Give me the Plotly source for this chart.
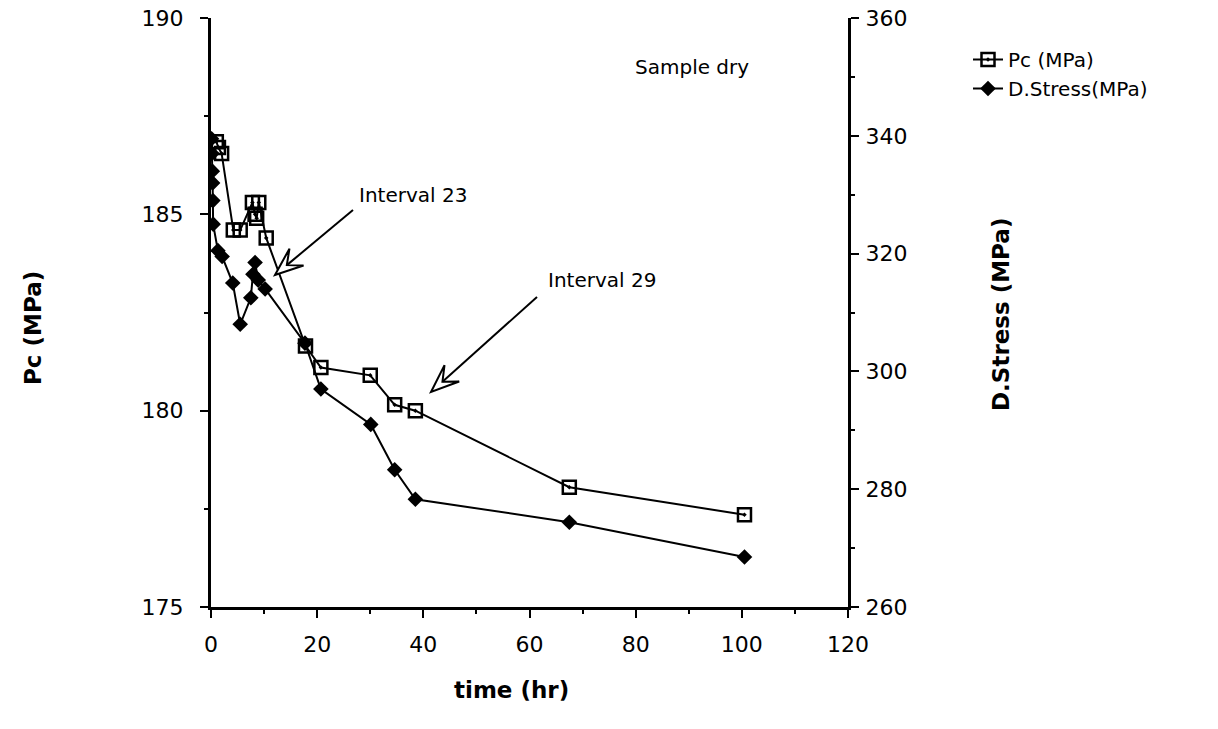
import math
import plotly.graph_objects as go

# ---- data ----
pc_time = [1.0, 1.4, 2.0, 4.2, 5.5, 7.8, 8.3, 8.6, 9.0, 10.4, 17.8, 20.7, 30.0, 34.6, 38.5, 67.5, 100.5]
pc_vals = [186.85, 186.7, 186.55, 184.6, 184.6, 185.3, 185.0, 184.9, 185.3, 184.4,
           181.65, 181.1, 180.9, 180.15, 180.0, 178.05, 177.35]

ds_time = [0.1, 0.2, 0.25, 0.3, 0.35, 0.4, 1.3, 2.1, 4.1, 5.5, 7.5, 7.9, 8.3, 8.9, 10.2,
           17.7, 20.7, 30.1, 34.6, 38.5, 67.5, 100.5]
ds_vals = [339.5, 337.0, 334.0, 332.0, 329.0, 325.0, 320.5, 319.5, 315.0, 308.0, 312.5,
           316.5, 318.5, 315.5, 314.0, 304.8, 297.0, 291.0, 283.3, 278.3, 274.4, 268.5]

x_ticks = [0, 20, 40, 60, 80, 100, 120]
pc_ticks = [175, 180, 185, 190]
ds_ticks = [260, 280, 300, 320, 340, 360]

FONT = "DejaVu Sans"
W, H = 1218, 729
L, R, T, B = 211, 848, 18, 607


def paper(px, py):
    return (px - L) / (R - L), 1 - (py - T) / (B - T)


fig = go.Figure()
fig.add_trace(go.Scatter(
    x=pc_time, y=pc_vals, name="Pc (MPa)", mode="lines+markers",
    line=dict(color="black", width=2),
    marker=dict(symbol="square-open-dot", size=13, color="black", line=dict(width=2.5)),
    yaxis="y"))
fig.add_trace(go.Scatter(
    x=ds_time, y=ds_vals, name="D.Stress(MPa)", mode="lines+markers",
    line=dict(color="black", width=2),
    marker=dict(symbol="diamond", size=12, color="black"),
    yaxis="y2"))

axis_common = dict(showgrid=False, zeroline=False, showline=True, linecolor="black",
                   linewidth=3, ticks="outside", ticklen=8, tickwidth=2, tickcolor="black",
                   automargin=False,
                   tickfont=dict(family=FONT, size=22, color="black"))

fig.update_layout(
    width=W, height=H,
    margin=dict(l=L, r=W - R, t=T, b=H - B, autoexpand=False),
    paper_bgcolor="white", plot_bgcolor="white",
    xaxis=dict(range=[0, 120], tickvals=x_ticks, ticklabelstandoff=8,
               minor=dict(dtick=10, ticks="outside", ticklen=4, tickcolor="black"),
               **axis_common),
    yaxis=dict(range=[175, 190], tickvals=pc_ticks, ticklabelstandoff=12,
               minor=dict(dtick=2.5, ticks="outside", ticklen=4, tickcolor="black"),
               **axis_common),
    yaxis2=dict(range=[260, 360], tickvals=ds_ticks, overlaying="y", side="right",
                anchor="x", ticklabelstandoff=2,
                minor=dict(dtick=10, ticks="outside", ticklen=4, tickcolor="black"),
                **axis_common),
    showlegend=True,
    legend=dict(x=paper(968, 0)[0], y=paper(0, 40)[1], xanchor="left", yanchor="top",
                font=dict(family=FONT, size=20, color="black"),
                bgcolor="rgba(0,0,0,0)", tracegroupgap=0, itemwidth=30),
)


def text(px, py, s, size, angle=0, xanchor="center"):
    fig.add_annotation(x=paper(px, 0)[0], y=paper(0, py)[1], xref="paper", yref="paper",
                       text=s, textangle=angle, showarrow=False,
                       xanchor=xanchor, yanchor="middle",
                       font=dict(family=FONT, size=size, color="black"))


# axis titles
text(33, 328, "<b>Pc (MPa)</b>", 23, angle=-90)
text(1001, 314, "<b>D.Stress (MPa)</b>", 23, angle=-90)
text(511, 690, "<b>time (hr)</b>", 23)
# in-plot labels
text(633, 67, "Sample dry", 20, xanchor="left")
text(357, 195, "Interval 23", 20, xanchor="left")
text(546, 280, "Interval 29", 20, xanchor="left")


def hollow_arrow(tail, tip, length=28, half=11):
    dx, dy = tip[0] - tail[0], tip[1] - tail[1]
    d = math.hypot(dx, dy)
    ux, uy = dx / d, dy / d
    nx, ny = -uy, ux
    bx, by = tip[0] - length * ux, tip[1] - length * uy
    p1 = (bx + half * nx, by + half * ny)
    p2 = (bx - half * nx, by - half * ny)
    notch = (tip[0] - 0.55 * length * ux, tip[1] - 0.55 * length * uy)
    pp = [paper(*p) for p in (tip, p1, notch, p2)]
    path = "M " + " L ".join(f"{a:.5f},{b:.5f}" for a, b in pp) + " Z"
    fig.add_shape(type="path", path=path, xref="paper", yref="paper",
                  line=dict(color="black", width=2), fillcolor="white", layer="above")
    a0, b0 = paper(*tail)
    a1, b1 = paper(*notch)
    fig.add_shape(type="line", x0=a0, y0=b0, x1=a1, y1=b1, xref="paper", yref="paper",
                  line=dict(color="black", width=2), layer="above")


hollow_arrow((353, 210), (275, 275))
hollow_arrow((537, 297), (431, 392))

fig.write_html("out.html")
